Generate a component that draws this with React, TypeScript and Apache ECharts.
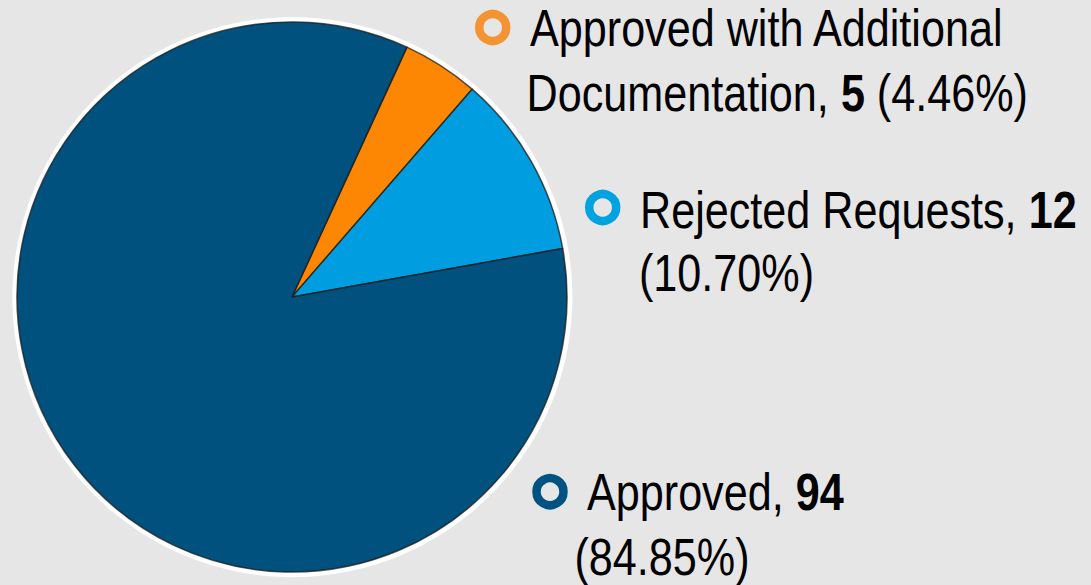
import React, { useEffect, useRef } from "react";
import * as echarts from "echarts";

const categories = ["Approved with Additional Documentation", "Rejected Requests", "Approved"];
const nameLines = [["Approved with Additional", "Documentation"], ["Rejected Requests"], ["Approved"]];
const counts = [5, 12, 94];
const percentLabels = ["4.46%", "10.70%", "84.85%"];
const sliceColors = ["#fd8603", "#009ee0", "#00517e"];
const markerColors = ["#f39332", "#00a3e0", "#005282"];

// label placement (layout only)
const markerCenters: [number, number][] = [
  [492.7, 27.5],
  [602.7, 207.5],
  [550, 491.7],
];
const line1Pos: [number, number][] = [
  [530, 28],
  [640, 210],
  [587, 491.7],
];
const line2Pos: [number, number][] = [
  [526.6, 93],
  [639, 273.5],
  [574.5, 557.5],
];

const FONT = "'Liberation Sans', Arial, sans-serif";
const FS = 52;
const SCALE_X = 0.83;

function labelLines(i: number): [string, string] {
  const lines = nameLines[i];
  const num = `{b|${counts[i]}}`;
  if (lines.length > 1) {
    return [lines[0], `${lines[1]}, ${num} (${percentLabels[i]})`];
  }
  return [`${lines[0]}, ${num}`, `(${percentLabels[i]})`];
}

export default function App() {
  const ref = useRef<HTMLDivElement>(null);
  useEffect(() => {
    if (!ref.current) return;
    const chart = echarts.init(ref.current, undefined, { renderer: "svg" });
    const data = categories.map((name, i) => ({
      name,
      value: counts[i],
      itemStyle: { color: sliceColors[i] },
    }));
    const textStyle = (text: string) => ({
      text,
      fontFamily: FONT,
      fontSize: FS,
      fill: "#000",
      align: "left",
      verticalAlign: "middle",
      rich: {
        b: { fontFamily: FONT, fontSize: FS, fontWeight: "bold", fill: "#000" },
      },
    });
    const graphics: any[] = [];
    categories.forEach((_, i) => {
      const [l1, l2] = labelLines(i);
      graphics.push({
        type: "circle",
        x: markerCenters[i][0],
        y: markerCenters[i][1],
        shape: { r: 13.5 },
        style: { fill: "none", stroke: markerColors[i], lineWidth: 8.5 },
        z: 10,
      });
      graphics.push({
        type: "text",
        x: line1Pos[i][0],
        y: line1Pos[i][1],
        scaleX: SCALE_X,
        style: textStyle(l1),
        z: 10,
      });
      graphics.push({
        type: "text",
        x: line2Pos[i][0],
        y: line2Pos[i][1],
        scaleX: SCALE_X,
        style: textStyle(l2),
        z: 10,
      });
    });
    chart.setOption({
      animation: false,
      backgroundColor: "#e6e6e6",
      graphic: graphics,
      series: [
        {
          type: "pie",
          silent: true,
          center: [292, 297],
          radius: 280,
          startAngle: 65.3,
          z: 1,
          data: [{ value: 1, itemStyle: { color: "#ffffff" } }],
          label: { show: false },
          labelLine: { show: false },
        },
        {
          type: "pie",
          center: [292, 297],
          radius: 275,
          startAngle: 65.3,
          clockwise: true,
          z: 2,
          data,
          itemStyle: { borderColor: "rgba(25,25,25,0.75)", borderWidth: 1.5 },
          label: { show: false },
          labelLine: { show: false },
        },
      ],
    });
    return () => chart.dispose();
  }, []);
  return (
    <div
      ref={ref}
      style={{ position: "fixed", left: 0, top: 0, width: 1091, height: 585, background: "#e6e6e6" }}
    />
  );
}
